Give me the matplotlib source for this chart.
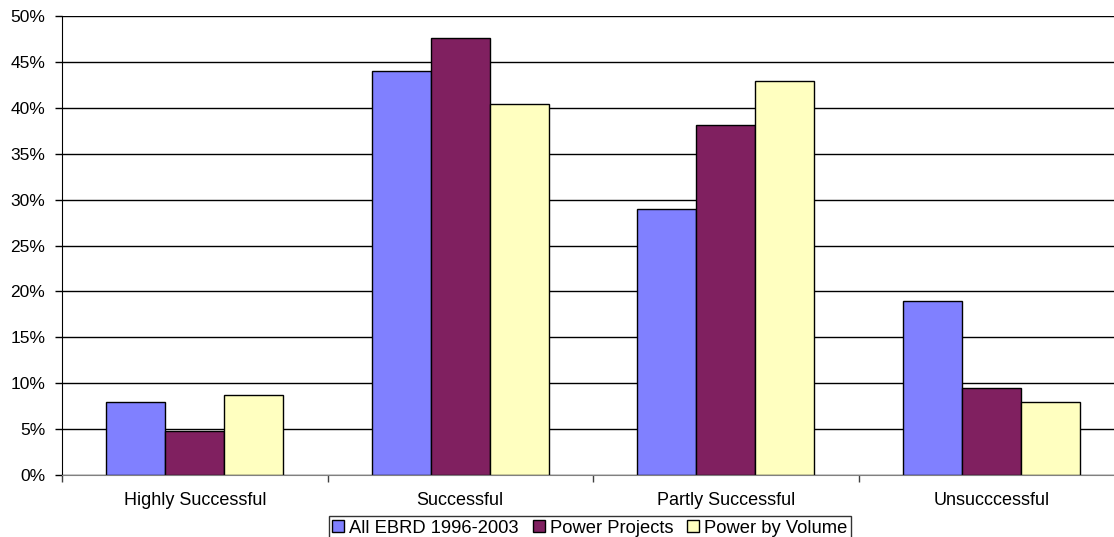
import matplotlib.pyplot as plt
import numpy as np
from matplotlib.ticker import FuncFormatter, FixedLocator

categories = ['Highly Successful', 'Successful', 'Partly Successful', 'Unsucccessful']
all_ebrd = [8.0, 44.0, 29.0, 19.0]
power_projects = [4.8, 47.6, 38.1, 9.5]
power_volume = [8.7, 40.4, 42.9, 8.0]

series = [
    ('All EBRD 1996-2003', all_ebrd, '#8080FF'),
    ('Power Projects', power_projects, '#802060'),
    ('Power by Volume', power_volume, '#FFFFC0'),
]

plt.rcParams['font.family'] = ['Liberation Sans', 'DejaVu Sans']

fig = plt.figure(figsize=(11.14, 5.37), dpi=100)
ax = fig.add_axes([62 / 1114, 62 / 537, 1062 / 1114, 459 / 537])

x = np.arange(len(categories))
w = 2 / 9
for i, (name, vals, col) in enumerate(series):
    ax.bar(x + (i - 1) * w, vals, width=w, color=col, edgecolor='black',
           linewidth=1, label=name, zorder=3)

ax.set_xlim(-0.5, 3.5)
ax.set_ylim(0, 50)
ax.set_yticks(np.arange(0, 51, 5))
ax.yaxis.set_major_formatter(FuncFormatter(lambda v, p: f'{v:.0f}%'))
ax.yaxis.grid(True, color='black', linewidth=1, zorder=0)

# category boundaries get the tick marks, labels sit in the middle
ax.xaxis.set_major_locator(FixedLocator(np.arange(-0.5, 4, 1)))
ax.xaxis.set_major_formatter(FuncFormatter(lambda v, p: ''))
ax.xaxis.set_minor_locator(FixedLocator(x))
ax.set_xticklabels(categories, minor=True)
ax.tick_params(axis='x', which='major', direction='out', length=5, width=1, color='#404040')
ax.tick_params(axis='x', which='minor', length=0, pad=12, labelsize=13)
ax.tick_params(axis='y', direction='out', length=5, width=1, pad=7, labelsize=12.5)

for s in ['top', 'right']:
    ax.spines[s].set_visible(False)
ax.spines['left'].set_color('black')
ax.spines['bottom'].set_color('#808080')
ax.spines['bottom'].set_zorder(4)

leg = fig.legend(loc='upper center', bbox_to_anchor=(590 / 1114, 1 - 516 / 537),
                 ncol=3, frameon=True, fancybox=False, edgecolor='black',
                 fontsize=13.2, handlelength=0.66, handleheight=0.66,
                 handletextpad=0.28, columnspacing=0.75, borderpad=0.2,
                 borderaxespad=0)
leg.get_frame().set_linewidth(1)

fig.savefig('out.png', dpi=100)
